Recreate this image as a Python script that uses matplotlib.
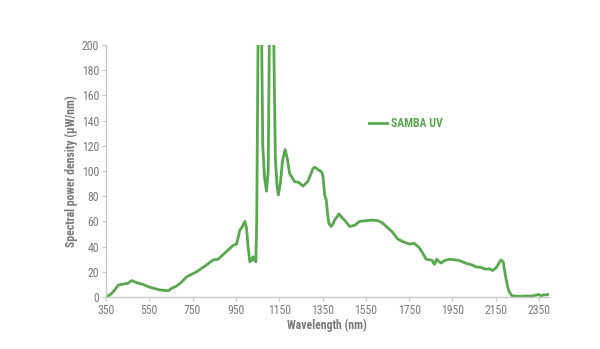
import matplotlib.pyplot as plt
from matplotlib import font_manager

# spectrum (wavelength in nm, density in uW/nm)
wavelength = [350, 354, 366, 377, 392, 407, 430, 452, 469, 492, 520, 553, 599, 638,
              653, 676, 700, 722, 768, 814, 845, 868, 906, 937, 953, 968, 980, 991,
              999, 1006, 1014, 1022, 1029, 1036, 1042, 1046, 1052, 1056, 1065, 1069,
              1074, 1082, 1091, 1099, 1104, 1109, 1120, 1125, 1132, 1140, 1146, 1155,
              1165, 1177, 1187, 1198, 1221, 1240, 1260, 1283, 1306, 1316, 1329, 1345,
              1352, 1360, 1367, 1374, 1379, 1390, 1398, 1406, 1426, 1440, 1452, 1475,
              1500, 1521, 1552, 1580, 1605, 1625, 1644, 1670, 1697, 1720, 1751, 1774,
              1797, 1812, 1828, 1845, 1857, 1862, 1867, 1872, 1877, 1885, 1897, 1915,
              1936, 1960, 1982, 2013, 2040, 2058, 2080, 2105, 2120, 2135, 2150, 2162,
              2174, 2184, 2190, 2197, 2205, 2212, 2220, 2227, 2235, 2260, 2290, 2320,
              2335, 2350, 2360, 2370, 2381, 2392]
density = [0, 0.5, 1.5, 3, 6, 9.5, 10.3, 11, 13, 11.4, 10, 7.7, 5.6, 5,
           6.9, 8.7, 12, 16, 20, 25.4, 29.4, 30, 36, 41, 42, 53, 56, 60,
           54.5, 40, 28, 29, 32, 29, 28, 60, 200, 520, 520, 200,
           120, 95, 84, 100, 200, 520, 520, 200, 110, 88, 81, 90,
           108, 117, 110, 98, 91.5, 91, 88, 92, 102, 103, 101, 99.5,
           96, 81, 77, 65, 58.5, 56, 58, 61, 66, 63, 61, 56,
           57, 60, 60.6, 61, 60.6, 59, 56, 52, 46, 44, 42, 42.6,
           39, 35, 30, 29.5, 29, 27, 26, 28, 30, 28.5, 27, 29,
           30, 29.5, 29, 26.7, 25.5, 24, 23.5, 22, 22.5, 21, 22.8, 26,
           29.4, 28, 22, 14.8, 8, 4.2, 2, 0.8, 0.8, 0.5, 0.8, 0.8,
           1.5, 2, 0.7, 1.8, 1.6, 2]

x_ticks = [350, 550, 750, 950, 1150, 1350, 1550, 1750, 1950, 2150, 2350]
y_ticks = [0, 20, 40, 60, 80, 100, 120, 140, 160, 180, 200]

# the reference uses a condensed face; take the narrowest one that is installed
installed = {f.name for f in font_manager.fontManager.ttflist}
face = 'Liberation Sans'
for name in ['Roboto Condensed', 'Liberation Sans Narrow', 'Open Sans Condensed']:
    if name in installed:
        face = name
        break
condensed = face != 'Liberation Sans'
plt.rcParams['font.family'] = [face, 'DejaVu Sans']

tick_size = 8.5 if condensed else 8
label_size = 8.5 if condensed else 7.5

green = '#58a84e'
grey = '#7a7a7a'

fig = plt.figure(figsize=(6, 3.49), dpi=100)
ax = fig.add_axes([0.1767, 0.149, 0.738, 0.722])

ax.plot(wavelength, density, color=green, linewidth=2.0, label='SAMBA UV',
        solid_joinstyle='round')

ax.set_xlim(350, 2395)
ax.set_ylim(0, 200)
ax.set_xticks(x_ticks)
ax.set_yticks(y_ticks)
ax.tick_params(colors='#c8c8c8', labelcolor=grey, labelsize=tick_size, length=3,
               width=0.8, pad=2)

for side in ['top', 'right']:
    ax.spines[side].set_visible(False)
for side in ['left', 'bottom']:
    ax.spines[side].set_color('#c8c8c8')
    ax.spines[side].set_linewidth(1.0)

ax.set_xlabel('Wavelength (nm)', color=grey, fontsize=label_size, fontweight='bold',
              labelpad=1)
ax.set_ylabel('Spectral power density (µW/nm)', color=grey, fontsize=label_size,
              fontweight='bold', labelpad=3)

leg = ax.legend(loc='upper left', bbox_to_anchor=(0.57, 0.755), frameon=False,
                handlelength=1.5, handletextpad=0.4,
                prop={'weight': 'bold', 'size': label_size})
for text in leg.get_texts():
    text.set_color(green)

fig.savefig('out.png', dpi=100)
